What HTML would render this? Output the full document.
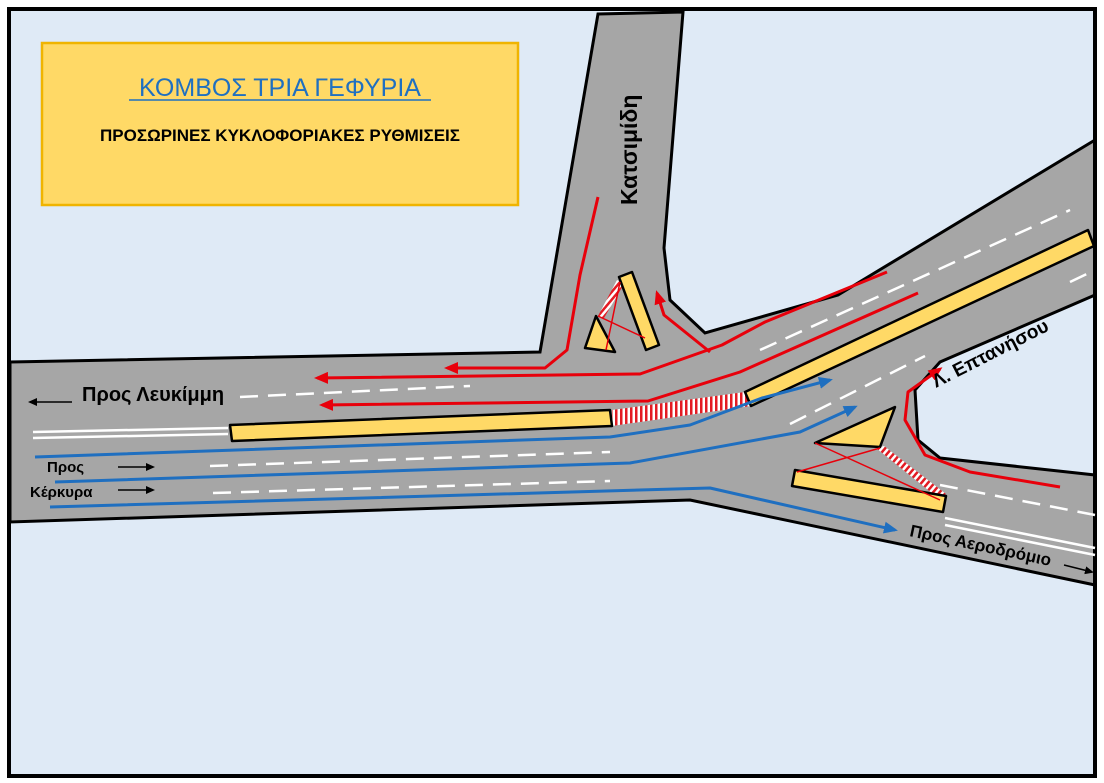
<!DOCTYPE html>
<html><head><meta charset="utf-8"><style>
html,body{margin:0;padding:0;background:#fff;}
svg{display:block;font-family:"Liberation Sans",sans-serif;}
</style></head><body>
<svg width="1104" height="783" viewBox="0 0 1104 783" xmlns="http://www.w3.org/2000/svg">
<defs>
<pattern id="hatch" width="5" height="5" patternUnits="userSpaceOnUse">
<rect width="5" height="5" fill="#fff"/><rect width="2.5" height="5" fill="#e31b23"/>
</pattern>
<pattern id="hatch2" width="5" height="5" patternUnits="userSpaceOnUse" patternTransform="rotate(40)">
<rect width="5" height="5" fill="#fff"/><rect width="2.5" height="5" fill="#e31b23"/>
</pattern>
<marker id="ab" markerWidth="14" markerHeight="12" refX="11" refY="6" orient="auto" markerUnits="userSpaceOnUse"><path d="M0,0 L14,6 L0,12 Z" fill="#1f6fc0"/></marker>
<marker id="arr" markerWidth="14" markerHeight="12" refX="11" refY="6" orient="auto" markerUnits="userSpaceOnUse"><path d="M0,0 L14,6 L0,12 Z" fill="#e8000b"/></marker>
<marker id="ak" markerWidth="9" markerHeight="8" refX="7" refY="4" orient="auto" markerUnits="userSpaceOnUse"><path d="M0,0 L9,4 L0,8 Z" fill="#000"/></marker>
</defs>
<rect x="0" y="0" width="1104" height="783" fill="#fff"/>
<rect x="9" y="9" width="1086" height="767" fill="#dfeaf6" stroke="#000" stroke-width="4"/>
<path d="M10,362 L540,352 L598,14 L683,12 L664,248 L670,300 L705,333 L838,295 L1095,140 L1095,295 L940,362 L915,390 L918,440 L940,458 L1095,475 L1095,585 L690,500 L10,522 Z" fill="#a6a6a6" stroke="#000" stroke-width="3"/>
<rect x="9" y="9" width="1086" height="767" fill="none" stroke="#000" stroke-width="4"/>
<g stroke="#fff" stroke-width="2.5" fill="none">
<path d="M33,432 L228,428 M33,438 L228,434"/>
<path d="M945,518 L1095,548 M945,525 L1095,555"/>
<g stroke-dasharray="18,10">
<path d="M240,397 L470,386"/>
<path d="M210,466 L610,452"/>
<path d="M213,493 L610,481"/>
<path d="M760,350 L1070,210"/>
<path d="M790,424 L925,356"/>
<path d="M1070,282 L1095,270"/>
<path d="M940,485 L1095,515"/>
</g>
</g>
<polygon points="612,410 745,392 751,406 612,426" fill="url(#hatch)"/>
<polygon points="598,316 617,280 624,284 604,318" fill="url(#hatch2)"/>
<polygon points="876,448 884,446 946,494 938,498" fill="url(#hatch2)"/>
<g fill="#ffd966" stroke="#000" stroke-width="2.5" stroke-linejoin="round">
<polygon points="230,425 610,410 612,426 232,441"/>
<polygon points="745,392 1088,230 1094,246 751,406"/>
<polygon points="619,277 632,272 659,345 646,350"/>
<polygon points="585,348 596,316 615,352"/>
<polygon points="815,443 895,407 880,447"/>
<polygon points="795,470 946,496 943,512 792,486"/>
</g>
<g stroke="#e8000b" stroke-width="1.5" fill="none">
<path d="M598,316 L645,338 M606,350 L620,282"/>
<path d="M815,443 L940,500 M797,472 L880,448"/>
</g>
<g stroke="#e8000b" stroke-width="3" fill="none" stroke-linejoin="round">
<path d="M598,197 L580,275 L567,350 L545,368 L447,368" marker-end="url(#arr)"/>
<path d="M887,272 L765,322 L722,345 L640,374 L317,378" marker-end="url(#arr)"/>
<path d="M918,293 L740,372 L648,401 L322,405" marker-end="url(#arr)"/>
<path d="M710,352 L664,315 L657,293" marker-end="url(#arr)"/>
<path d="M1060,487 L970,472 L925,455 L905,420 L908,392 L940,369" marker-end="url(#arr)"/>
</g>
<g stroke="#1f6fc0" stroke-width="3" fill="none" stroke-linejoin="round">
<path d="M35,457 L610,437 L690,425 L762,398 L830,380" marker-end="url(#ab)"/>
<path d="M55,482 L630,463 L800,432 L855,407" marker-end="url(#ab)"/>
<path d="M50,507 L710,488 L895,530" marker-end="url(#ab)"/>
</g>
<rect x="42" y="43" width="476" height="162" fill="#ffd966" stroke="#f0b400" stroke-width="2.5"/>
<text x="280" y="96" text-anchor="middle" font-size="25" fill="#1f70c1">ΚΟΜΒΟΣ ΤΡΙΑ ΓΕΦΥΡΙΑ</text>
<line x1="129" y1="100" x2="431" y2="100" stroke="#1f70c1" stroke-width="1.5"/>
<text x="280" y="141" text-anchor="middle" font-size="17" font-weight="bold" fill="#000">ΠΡΟΣΩΡΙΝΕΣ ΚΥΚΛΟΦΟΡΙΑΚΕΣ ΡΥΘΜΙΣΕΙΣ</text>
<g font-weight="bold" fill="#000">
<text x="82" y="401" font-size="20">Προς Λευκίμμη</text>
<text x="47" y="472" font-size="15">Προς</text>
<text x="30" y="497" font-size="15">Κέρκυρα</text>
<text transform="translate(637,205) rotate(-90)" font-size="23">Κατσιμίδη</text>
<text transform="translate(936,388) rotate(-27)" font-size="19">Λ. Επτανήσου</text>
<text transform="translate(909,536) rotate(12)" font-size="17">Προς Αεροδρόμιο</text>
</g>
<g stroke="#000" stroke-width="1.5">
<line x1="72" y1="402" x2="30" y2="402" marker-end="url(#ak)"/>
<line x1="118" y1="467" x2="153" y2="467" marker-end="url(#ak)"/>
<line x1="118" y1="490" x2="153" y2="490" marker-end="url(#ak)"/>
<line x1="1064" y1="565" x2="1092" y2="572" marker-end="url(#ak)"/>
</g>
</svg>
</body></html>
